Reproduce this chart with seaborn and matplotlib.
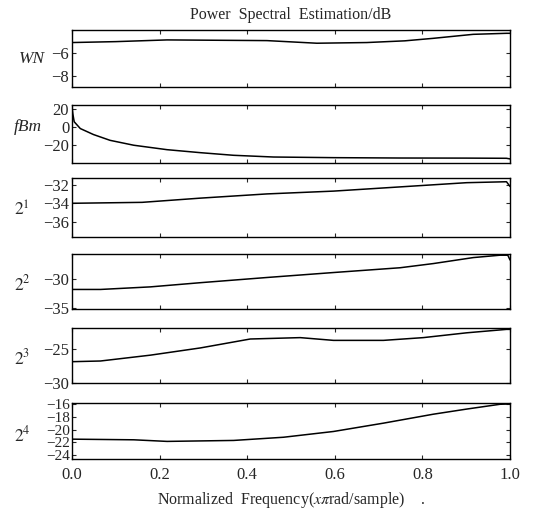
import numpy as np
import pandas as pd
import matplotlib
matplotlib.use("Agg")
import matplotlib.pyplot as plt
import seaborn as sns

# ---- data ----
freq_wn = [0.0, 0.10, 0.217, 0.33, 0.445, 0.559, 0.673, 0.76, 0.825, 0.916, 0.992, 1.0]
psd_wn = [-5.10, -5.02, -4.87, -4.90, -4.93, -5.16, -5.10, -4.95, -4.73, -4.38, -4.29, -4.29]

freq_fbm = [0.0, 0.002, 0.005, 0.019, 0.049, 0.087, 0.141, 0.217, 0.293, 0.369, 0.46, 0.597, 0.749, 0.9, 0.992, 1.0]
psd_fbm = [22.0, 14.0, 5.5, -2.0, -8.6, -15.0, -20.4, -25.3, -28.6, -31.5, -33.4, -34.1, -34.5, -34.6, -34.8, -35.5]

freq_2_1 = [0.0, 0.16, 0.293, 0.445, 0.597, 0.749, 0.901, 0.992, 1.0]
psd_2_1 = [-34.0, -33.9, -33.45, -33.0, -32.7, -32.25, -31.8, -31.7, -32.2]

freq_2_2 = [0.0, 0.065, 0.179, 0.293, 0.445, 0.597, 0.749, 0.825, 0.916, 0.977, 0.995, 1.0]
psd_2_2 = [-31.83, -31.83, -31.4, -30.7, -29.83, -29.0, -28.2, -27.5, -26.5, -26.1, -26.1, -26.9]

freq_2_3 = [0.0, 0.065, 0.179, 0.293, 0.407, 0.521, 0.597, 0.711, 0.802, 0.901, 0.992, 1.0]
psd_2_3 = [-26.9, -26.8, -25.95, -24.9, -23.6, -23.4, -23.8, -23.8, -23.4, -22.7, -22.2, -22.2]

freq_2_4 = [0.0, 0.141, 0.217, 0.369, 0.483, 0.597, 0.711, 0.825, 0.901, 0.977, 1.0]
psd_2_4 = [-21.5, -21.6, -21.85, -21.7, -21.2, -20.3, -19.0, -17.6, -16.8, -16.05, -16.0]

series_labels = ["WN", "fBm", "$2^1$", "$2^2$", "$2^3$", "$2^4$"]
series_freq = [freq_wn, freq_fbm, freq_2_1, freq_2_2, freq_2_3, freq_2_4]
series_psd = [psd_wn, psd_fbm, psd_2_1, psd_2_2, psd_2_3, psd_2_4]
y_limits = [(-9, -4), (-40, 24), (-37.6, -31.3), (-35.1, -25.9), (-30, -22), (-24.6, -15.85)]
y_ticks = [[-8, -6], [-20, 0, 20], [-36, -34, -32], [-35, -30], [-30, -25], [-24, -22, -20, -18, -16]]
x_ticks = [0.0, 0.2, 0.4, 0.6, 0.8, 1.0]
x_ticklabels = ["0.0", "0.2", "0.4", "0.6", "0.8", "1.0"]

title_text = "Power  Spectral  Estimation/dB"
xlabel_text = "Normalized  Frequency($x\\pi$rad/sample)    ."

# ---- styling ----
sns.set_style("white")
plt.rcParams["font.family"] = ["Liberation Serif", "DejaVu Serif"]
plt.rcParams["mathtext.fontset"] = "stix"
plt.rcParams["axes.edgecolor"] = "black"
plt.rcParams["axes.linewidth"] = 1.0

W, H = 543, 511
fig = plt.figure(figsize=(W / 100, H / 100), dpi=100)

panel_px = [(30, 87), (105, 163), (178, 237), (254, 309), (328, 383), (403, 459)]
left_px, right_px = 72, 510
label_x = [-0.092, -0.10, -0.114, -0.114, -0.114, -0.114]
label_y = [0.50, 0.62, 0.45, 0.45, 0.45, 0.42]
italic = [True, True, False, False, False, False]

for i, (top, bot) in enumerate(panel_px):
    ax = fig.add_axes([left_px / W, 1 - bot / H, (right_px - left_px) / W, (bot - top) / H])
    df = pd.DataFrame({"freq": series_freq[i], "psd": series_psd[i]})
    sns.lineplot(data=df, x="freq", y="psd", ax=ax, color="black", linewidth=1.1, estimator=None, sort=False)
    ax.set_xlim(0, 1)
    ax.set_ylim(*y_limits[i])
    ax.set_yticks(y_ticks[i])
    ax.set_xticks(x_ticks)
    ax.tick_params(direction="in", length=3, width=0.8, labelsize=12, top=True, right=True,
                   bottom=True, left=True, pad=2)
    if i < 5:
        ax.set_xticklabels([])
        ax.set_xlabel("")
    else:
        ax.set_xticklabels(x_ticklabels)
        ax.tick_params(axis="x", pad=6)
        ax.set_xlabel(xlabel_text, fontsize=11.5, labelpad=5)
    ax.set_ylabel(series_labels[i], rotation=0, fontsize=12.5,
                  style="italic" if italic[i] else "normal", ha="center", va="center")
    ax.yaxis.set_label_coords(label_x[i], label_y[i])
    for s in ax.spines.values():
        s.set_visible(True)
        s.set_color("black")
    if i == 0:
        ax.set_title(title_text, fontsize=11.5, pad=8)
    if i == 5:
        ax.tick_params(axis="y", labelsize=11, pad=1)

fig.savefig("out.png", dpi=100, facecolor="white")
